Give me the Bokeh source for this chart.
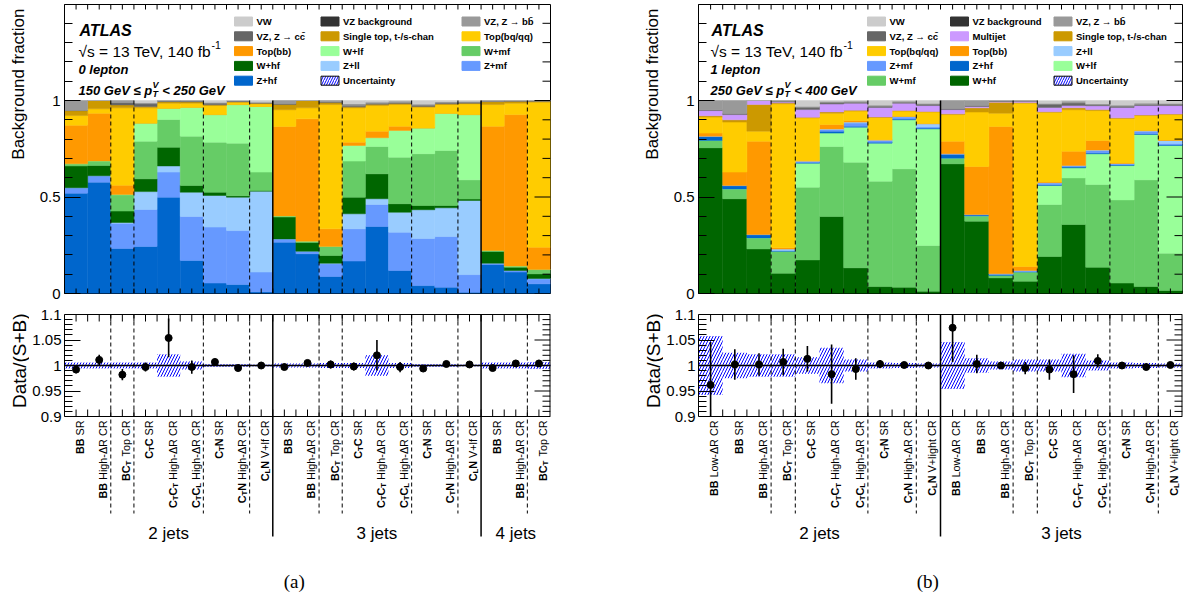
import numpy as np
from bokeh.plotting import figure
from bokeh.models import FixedTicker, ColumnDataSource
from bokeh.layouts import row, column
from bokeh.embed import file_html
from bokeh.resources import INLINE
from bokeh.core.properties import value

FONT = "Liberation Sans"
SERIF = "Liberation Serif"

# ====================== DATA ======================
SAMPLE_NAMES = {"zhf": "Z+hf", "zmf": "Z+mf", "zll": "Z+ll", "whf": "W+hf", "wmf": "W+mf",
                "wlf": "W+lf", "topbb": "Top(bb)", "topbq": "Top(bq/qq)",
                "stop": "Single top, t-/s-chan", "mj": "Multijet",
                "vzcc": "VZ, Z \u2192 cc\u0304", "vzbb": "VZ, Z \u2192 bb\u0304",
                "vzbkg": "VZ background", "vw": "VW"}
SAMPLE_COLORS = {"zhf": "#0066CC", "zmf": "#6699FF", "zll": "#99CCFF", "whf": "#006600",
                 "wmf": "#66CC66", "wlf": "#99FF99", "topbb": "#FF9900", "topbq": "#FFCC00",
                 "stop": "#CC9900", "mj": "#CC99FF", "vzcc": "#666666", "vzbb": "#999999",
                 "vzbkg": "#333333", "vw": "#CCCCCC"}
Y_TITLE_TOP = "Background fraction"
Y_TITLE_BOT = "Data/(S+B)"

# ---- panel (a): 0 lepton, 150 <= pTV < 250 GeV ----
a_groups = ["2 jets", "3 jets", "4 jets"]
a_group_sizes = [9, 9, 3]
a_regions = ["BB| SR", "BB| High-\u0394R CR", "BC_T| Top CR", "C_TC| SR", "C_TC_T| High-\u0394R CR",
             "C_TC_L| High-\u0394R CR", "C_TN| SR", "C_TN| High-\u0394R CR", "C_LN| V+lf CR",
             "BB| SR", "BB| High-\u0394R CR", "BC_T| Top CR", "C_TC| SR", "C_TC_T| High-\u0394R CR",
             "C_TC_L| High-\u0394R CR", "C_TN| SR", "C_TN| High-\u0394R CR", "C_LN| V+lf CR",
             "BB| SR", "BB| High-\u0394R CR", "BC_T| Top CR"]
a_dashed = [2, 3, 6, 8, 11, 12, 15, 17, 20]
a_solid = [9, 18]
a_stack_order = ["zhf", "zmf", "zll", "whf", "wmf", "wlf", "topbb", "topbq", "stop",
                 "vzcc", "vzbb", "vzbkg", "vw"]
a_zhf = [0.520, 0.577, 0.233, 0.244, 0.499, 0.171, 0.054, 0.047, 0.009, 0.266, 0.206, 0.088, 0.168, 0.347, 0.119, 0.041, 0.033, 0.007, 0.150, 0.111, 0.050]
a_zmf = [0.028, 0.033, 0.131, 0.191, 0.130, 0.228, 0.290, 0.279, 0.102, 0.017, 0.013, 0.066, 0.167, 0.114, 0.199, 0.244, 0.262, 0.091, 0.007, 0.008, 0.026]
a_zll = [0.000, 0.000, 0.004, 0.093, 0.032, 0.126, 0.164, 0.173, 0.419, 0.000, 0.000, 0.003, 0.078, 0.030, 0.103, 0.149, 0.149, 0.384, 0.000, 0.000, 0.002]
a_whf = [0.113, 0.053, 0.059, 0.066, 0.097, 0.035, 0.017, 0.007, 0.004, 0.113, 0.045, 0.040, 0.086, 0.129, 0.044, 0.022, 0.012, 0.007, 0.061, 0.017, 0.024]
a_wmf = [0.011, 0.024, 0.084, 0.195, 0.144, 0.255, 0.259, 0.273, 0.095, 0.006, 0.007, 0.047, 0.187, 0.142, 0.241, 0.268, 0.285, 0.100, 0.005, 0.006, 0.022]
a_wlf = [0.000, 0.000, 0.002, 0.094, 0.058, 0.150, 0.143, 0.200, 0.340, 0.000, 0.000, 0.000, 0.081, 0.045, 0.139, 0.134, 0.193, 0.338, 0.000, 0.000, 0.000]
a_topbb = [0.200, 0.247, 0.048, 0.000, 0.000, 0.000, 0.000, 0.000, 0.000, 0.463, 0.634, 0.091, 0.017, 0.034, 0.022, 0.000, 0.000, 0.000, 0.644, 0.785, 0.116]
a_topbq = [0.050, 0.023, 0.401, 0.079, 0.026, 0.021, 0.047, 0.012, 0.014, 0.087, 0.057, 0.644, 0.178, 0.133, 0.112, 0.107, 0.045, 0.056, 0.112, 0.059, 0.751]
a_stop = [0.026, 0.043, 0.015, 0.007, 0.008, 0.007, 0.004, 0.003, 0.003, 0.027, 0.038, 0.010, 0.005, 0.006, 0.005, 0.004, 0.004, 0.003, 0.015, 0.010, 0.005]
a_vzcc = [0.000, 0.000, 0.012, 0.014, 0.003, 0.004, 0.006, 0.002, 0.002, 0.005, 0.000, 0.005, 0.008, 0.006, 0.006, 0.006, 0.004, 0.004, 0.002, 0.002, 0.002]
a_vzbb = [0.052, 0.000, 0.011, 0.003, 0.003, 0.003, 0.004, 0.002, 0.002, 0.016, 0.000, 0.006, 0.005, 0.004, 0.005, 0.004, 0.004, 0.004, 0.004, 0.002, 0.002]
a_vzbkg = [0.000, 0.000, 0.000, 0.000, 0.000, 0.000, 0.000, 0.000, 0.000, 0.000, 0.000, 0.000, 0.000, 0.000, 0.000, 0.000, 0.000, 0.000, 0.000, 0.000, 0.000]
a_vw = [0.000, 0.000, 0.000, 0.014, 0.000, 0.000, 0.012, 0.002, 0.010, 0.000, 0.000, 0.000, 0.020, 0.010, 0.005, 0.021, 0.009, 0.006, 0.000, 0.000, 0.000]
a_ratio = [0.992, 1.011, 0.982, 0.997, 1.054, 0.997, 1.007, 0.995, 1.000, 0.997, 1.005, 1.002, 0.998, 1.020, 0.997, 0.994, 1.003, 1.002, 0.995, 1.004, 1.004]
a_err = [0.007, 0.010, 0.011, 0.009, 0.038, 0.013, 0.004, 0.003, 0.002, 0.005, 0.004, 0.008, 0.008, 0.030, 0.010, 0.003, 0.003, 0.002, 0.004, 0.006, 0.006]
a_unc = [0.006, 0.006, 0.006, 0.006, 0.022, 0.008, 0.003, 0.003, 0.002, 0.004, 0.004, 0.005, 0.005, 0.020, 0.005, 0.003, 0.003, 0.002, 0.006, 0.006, 0.007]
a_legend = [["vw", "vzcc", "topbb", "whf", "zhf"],
            ["vzbkg", "stop", "wlf", "zll", "unc"],
            ["vzbb", "topbq", "wmf", "zmf"]]
a_text = ["0 lepton", "150 GeV \u2264 p", "V", "T", "< 250 GeV"]

# ---- panel (b): 1 lepton, 250 <= pTV < 400 GeV ----
b_groups = ["2 jets", "3 jets"]
b_group_sizes = [10, 10]
b_regions = ["BB| Low-\u0394R CR", "BB| SR", "BB| High-\u0394R CR", "BC_T| Top CR", "C_TC| SR",
             "C_TC_T| High-\u0394R CR", "C_TC_L| High-\u0394R CR", "C_TN| SR", "C_TN| High-\u0394R CR",
             "C_LN| V+light CR",
             "BB| Low-\u0394R CR", "BB| SR", "BB| High-\u0394R CR", "BC_T| Top CR", "C_TC| SR",
             "C_TC_T| High-\u0394R CR", "C_TC_L| High-\u0394R CR", "C_TN| SR", "C_TN| High-\u0394R CR",
             "C_LN| V+light CR"]
b_dashed = [3, 4, 7, 9, 13, 14, 17, 19]
b_solid = [10]
b_stack_order = ["whf", "wmf", "wlf", "zhf", "zmf", "zll", "topbb", "topbq", "stop", "mj",
                 "vzcc", "vzbb", "vzbkg", "vw"]
b_whf = [0.755, 0.491, 0.231, 0.105, 0.174, 0.399, 0.133, 0.036, 0.033, 0.012, 0.672, 0.375, 0.081, 0.064, 0.192, 0.358, 0.136, 0.054, 0.036, 0.016]
b_wmf = [0.038, 0.050, 0.057, 0.114, 0.377, 0.363, 0.547, 0.546, 0.613, 0.237, 0.029, 0.026, 0.012, 0.047, 0.269, 0.241, 0.429, 0.431, 0.553, 0.193]
b_wlf = [0.000, 0.000, 0.000, 0.000, 0.124, 0.069, 0.182, 0.197, 0.254, 0.604, 0.000, 0.000, 0.000, 0.000, 0.099, 0.052, 0.159, 0.178, 0.235, 0.558]
b_zhf = [0.020, 0.017, 0.016, 0.002, 0.004, 0.010, 0.004, 0.005, 0.004, 0.004, 0.020, 0.006, 0.007, 0.002, 0.003, 0.007, 0.005, 0.004, 0.004, 0.004]
b_zmf = [0.002, 0.002, 0.002, 0.002, 0.005, 0.009, 0.017, 0.009, 0.010, 0.006, 0.003, 0.002, 0.002, 0.004, 0.009, 0.003, 0.012, 0.005, 0.013, 0.006]
b_zll = [0.000, 0.000, 0.000, 0.007, 0.002, 0.002, 0.005, 0.002, 0.003, 0.016, 0.000, 0.000, 0.000, 0.002, 0.002, 0.002, 0.002, 0.002, 0.002, 0.016]
b_topbb = [0.016, 0.069, 0.483, 0.007, 0.002, 0.024, 0.008, 0.002, 0.002, 0.002, 0.065, 0.249, 0.763, 0.021, 0.004, 0.074, 0.050, 0.002, 0.002, 0.002]
b_topbq = [0.083, 0.259, 0.052, 0.746, 0.222, 0.058, 0.049, 0.115, 0.026, 0.059, 0.138, 0.282, 0.069, 0.846, 0.361, 0.215, 0.155, 0.231, 0.077, 0.132]
b_stop = [0.007, 0.012, 0.138, 0.005, 0.003, 0.007, 0.005, 0.003, 0.003, 0.003, 0.004, 0.022, 0.057, 0.004, 0.003, 0.010, 0.005, 0.003, 0.003, 0.003]
b_mj = [0.027, 0.027, 0.021, 0.004, 0.040, 0.041, 0.036, 0.049, 0.038, 0.031, 0.022, 0.007, 0.004, 0.006, 0.022, 0.012, 0.020, 0.054, 0.049, 0.044]
b_vzcc = [0.004, 0.005, 0.000, 0.004, 0.010, 0.006, 0.005, 0.006, 0.005, 0.005, 0.005, 0.005, 0.002, 0.002, 0.015, 0.013, 0.004, 0.006, 0.005, 0.005]
b_vzbb = [0.048, 0.068, 0.000, 0.004, 0.005, 0.006, 0.004, 0.004, 0.004, 0.004, 0.042, 0.026, 0.003, 0.002, 0.004, 0.008, 0.004, 0.004, 0.005, 0.004]
b_vzbkg = [0.000, 0.000, 0.000, 0.000, 0.000, 0.000, 0.000, 0.000, 0.000, 0.000, 0.000, 0.000, 0.000, 0.000, 0.000, 0.000, 0.000, 0.000, 0.000, 0.000]
b_vw = [0.000, 0.000, 0.000, 0.000, 0.032, 0.006, 0.005, 0.026, 0.005, 0.017, 0.000, 0.000, 0.000, 0.000, 0.016, 0.005, 0.019, 0.026, 0.016, 0.017]
b_ratio = [0.962, 1.002, 1.002, 1.007, 1.013, 0.983, 0.993, 1.003, 1.001, 1.000, 1.074, 1.003, 1.000, 0.995, 0.992, 0.983, 1.009, 1.000, 0.997, 1.001]
b_err = [0.084, 0.030, 0.022, 0.026, 0.025, 0.058, 0.021, 0.008, 0.005, 0.004, 0.067, 0.018, 0.006, 0.012, 0.020, 0.037, 0.013, 0.007, 0.004, 0.003]
b_unc = [0.058, 0.025, 0.022, 0.022, 0.016, 0.035, 0.012, 0.006, 0.005, 0.004, 0.046, 0.014, 0.008, 0.012, 0.012, 0.023, 0.010, 0.006, 0.005, 0.004]
b_legend = [["vw", "vzcc", "topbq", "zmf", "wmf"],
            ["vzbkg", "mj", "topbb", "zhf", "whf"],
            ["vzbb", "stop", "zll", "wlf", "unc"]]
b_text = ["1 lepton", "250 GeV \u2264 p", "V", "T", "< 400 GeV"]

a_stacks = {"zhf": a_zhf, "zmf": a_zmf, "zll": a_zll, "whf": a_whf, "wmf": a_wmf, "wlf": a_wlf,
            "topbb": a_topbb, "topbq": a_topbq, "stop": a_stop, "vzcc": a_vzcc, "vzbb": a_vzbb,
            "vzbkg": a_vzbkg, "vw": a_vw}
b_stacks = {"whf": b_whf, "wmf": b_wmf, "wlf": b_wlf, "zhf": b_zhf, "zmf": b_zmf, "zll": b_zll,
            "topbb": b_topbb, "topbq": b_topbq, "stop": b_stop, "mj": b_mj, "vzcc": b_vzcc,
            "vzbb": b_vzbb, "vzbkg": b_vzbkg, "vw": b_vw}

# ====================== text metrics (Arial/Liberation Sans) ======================
UP = "ABCDEFGHIJKLMNOPQRSTUVWXYZ"
LO = "abcdefghijklmnopqrstuvwxyz"
WR = dict(zip(UP, [667, 667, 722, 722, 667, 611, 778, 722, 278, 500, 667, 556, 833, 722, 778, 667, 778, 722, 667, 611, 722, 667, 944, 667, 667, 611]))
WR.update(zip(LO, [556, 556, 500, 556, 556, 278, 556, 556, 222, 222, 500, 222, 833, 556, 556, 556, 556, 333, 500, 278, 556, 500, 722, 500, 500, 500]))
WB = dict(zip(UP, [722, 722, 722, 722, 667, 611, 778, 722, 278, 556, 722, 611, 833, 722, 778, 667, 778, 722, 667, 611, 722, 667, 944, 667, 667, 611]))
WB.update(zip(LO, [556, 611, 556, 611, 556, 333, 611, 611, 278, 278, 556, 278, 889, 611, 611, 611, 611, 389, 556, 333, 611, 556, 778, 556, 556, 500]))
COMMON = {" ": 278, "-": 333, "+": 584, "/": 278, "(": 333, ")": 333, ",": 278, ".": 278,
          "<": 584, "\u2264": 549, "\u2192": 1000, "\u221a": 549, "\u0394": 668, "=": 584, "\u0304": 0}
for d in (WR, WB):
    d.update(COMMON)
    d.update({c: 556 for c in "0123456789"})


def tw(s, size, bold):
    tab = WB if bold else WR
    return sum(tab.get(c, 556) for c in s) * size / 1000.0


def parse_region(spec):
    bold, norm = spec.split("|")
    pieces, i = [], 0
    while i < len(bold):
        if bold[i] == "_":
            pieces.append((bold[i + 1], "s"))
            i += 2
        else:
            j = i
            while j < len(bold) and bold[j] != "_":
                j += 1
            pieces.append((bold[i:j], "b"))
            i = j
    pieces.append((norm, "n"))
    return pieces


TOTAL_H = 594


def title_fig(width, x_top, x_bot):
    """Narrow figure that holds the two rotated y-axis titles of one panel."""
    f = figure(frame_width=width, frame_height=TOTAL_H, min_border_left=0, min_border_right=0,
               min_border_top=0, min_border_bottom=0, x_range=(0, width),
               y_range=(0, TOTAL_H), x_axis_location=None, y_axis_location=None,
               toolbar_location=None, output_backend="svg")
    f.outline_line_color = None
    f.grid.visible = False
    f.background_fill_color = "white"
    f.border_fill_color = "white"
    f.text([x_top], [TOTAL_H - 8], text=[Y_TITLE_TOP], angle=np.pi / 2, text_align="right",
           text_baseline="alphabetic", text_font=value(FONT), text_font_size="17px",
           text_color="black")
    f.text([x_bot], [TOTAL_H - 313], text=[Y_TITLE_BOT], angle=np.pi / 2, text_align="right",
           text_baseline="alphabetic", text_font=value(FONT), text_font_size="19px",
           text_color="black")
    return f


# ====================== panel builder ======================
def make_panel(N, stacks, order, ratio, err, unc, regions, groups, gsizes, dashed, solid,
               legend_cols, legend_x, lines, caption, caption_px, border_left, frame_w,
               border_right, page_left, text_px):
    bw = frame_w / N

    def X(px):
        return (px - page_left) / bw

    def Yt(py):
        return (293.0 - py) / 193.0

    k = 0.2 / 102.0

    def Yb(py):
        return 1.1 - (py - 314.0) * k

    ytop = Yt(4)
    # ---------------- top (stack) figure ----------------
    top = figure(frame_width=frame_w, frame_height=289, min_border_left=border_left,
                 min_border_right=border_right, min_border_top=4, min_border_bottom=12,
                 x_range=(0, N), y_range=(0, ytop), x_axis_location=None,
                 y_axis_location="left", toolbar_location=None, output_backend="svg")
    top.outline_line_color = "black"
    top.outline_line_width = 1
    top.grid.visible = False
    top.background_fill_color = "white"
    top.border_fill_color = "white"
    ax = top.yaxis[0]
    ax.ticker = FixedTicker(ticks=[0.0, 0.5, 1.0],
                            minor_ticks=[0.1, 0.2, 0.3, 0.4, 0.6, 0.7, 0.8, 0.9, 1.1, 1.2, 1.3, 1.4])
    ax.major_label_overrides = {0.0: "0", 0.5: "0.5", 1.0: "1"}
    ax.major_tick_in, ax.major_tick_out = 16, 0
    ax.minor_tick_in, ax.minor_tick_out = 8, 0
    ax.major_label_standoff = 4
    ax.major_label_text_font = FONT
    ax.major_label_text_font_size = "15px"
    ax.major_label_text_color = "black"

    xs = [i + 0.5 for i in range(N)]
    src = dict(x=xs)
    for key in order:
        src[key] = stacks[key]
    top.vbar_stack(order, x="x", width=1.0, source=ColumnDataSource(src),
                   color=[SAMPLE_COLORS[k_] for k_ in order], line_width=0.5)

    # separators
    top.segment(x0=dashed, y0=0, x1=dashed, y1=1.0, line_color="black", line_width=1,
                line_dash="4 3")
    top.segment(x0=solid, y0=0, x1=solid, y1=1.0, line_color="black", line_width=1.5)

    # ticks on x (top & bottom) and right side
    ht = [0.5 * j for j in range(1, 2 * N)]
    top.segment(x0=ht, y0=0, x1=ht, y1=5 / 193.0, line_color="black", line_width=1)
    top.segment(x0=ht, y0=ytop, x1=ht, y1=ytop - 5 / 193.0, line_color="black", line_width=1)
    mn = [0.1, 0.2, 0.3, 0.4, 0.6, 0.7, 0.8, 0.9, 1.1, 1.2, 1.3, 1.4]
    top.segment(x0=N - 8 / bw, y0=mn, x1=N, y1=mn, line_color="black", line_width=1)
    mj = [0.0, 0.5, 1.0]
    top.segment(x0=N - 16 / bw, y0=mj, x1=N, y1=mj, line_color="black", line_width=1)

    # ATLAS texts
    tx = text_px
    top.text([X(tx + 1)], [Yt(30)], text=["ATLAS"], text_font=value(FONT),
             text_font_style="bold italic", text_font_size="16px", text_color="black",
             text_baseline="alphabetic")
    main = "\u221as = 13 TeV, 140 fb"
    top.text([X(tx)], [Yt(51)], text=[main], text_font=value(FONT), text_font_size="15.5px",
             text_color="black", text_baseline="alphabetic")
    top.text([X(tx + tw(main, 15.5, False) - 2.5)], [Yt(44.5)], text=["-1"],
             text_font=value(FONT), text_font_size="10.5px", text_color="black",
             text_baseline="alphabetic")
    top.text([X(tx)], [Yt(69)], text=[lines[0]], text_font=value(FONT),
             text_font_style="bold italic", text_font_size="13px", text_color="black",
             text_baseline="alphabetic")
    cx = tx
    top.text([X(cx)], [Yt(90)], text=[lines[1]], text_font=value(FONT),
             text_font_style="bold italic", text_font_size="13px", text_color="black",
             text_baseline="alphabetic")
    cx += tw(lines[1], 13, True) + 0.5
    top.text([X(cx)], [Yt(90 - 6)], text=[lines[2]], text_font=value(FONT),
             text_font_style="bold italic", text_font_size="9px", text_color="black",
             text_baseline="alphabetic")
    top.text([X(cx)], [Yt(90 + 3.5)], text=[lines[3]], text_font=value(FONT),
             text_font_style="bold italic", text_font_size="9px", text_color="black",
             text_baseline="alphabetic")
    cx += tw("V", 9, True) + tw(" ", 13, True)
    top.text([X(cx)], [Yt(90)], text=[lines[4]], text_font=value(FONT),
             text_font_style="bold italic", text_font_size="13px", text_color="black",
             text_baseline="alphabetic")

    # legend (drawn as swatches + text)
    row_y = [21.0, 35.8, 50.6, 65.4, 80.2]
    for c, col in enumerate(legend_cols):
        px0 = legend_x[c]
        for r, key in enumerate(col):
            yc = row_y[r]
            if key == "unc":
                top.quad(left=[X(px0)], right=[X(px0 + 18)], bottom=[Yt(yc + 4.5)],
                         top=[Yt(yc - 4.5)], fill_color="white", line_color="black",
                         line_width=1, hatch_pattern="/", hatch_color="#0000FF",
                         hatch_weight=1, hatch_scale=5)
                name = "Uncertainty"
            else:
                top.quad(left=[X(px0)], right=[X(px0 + 18)], bottom=[Yt(yc + 4.5)],
                         top=[Yt(yc - 4.5)], fill_color=SAMPLE_COLORS[key],
                         line_color=SAMPLE_COLORS[key])
                name = SAMPLE_NAMES[key]
            top.text([X(px0 + 22)], [Yt(yc)], text=[name], text_font=value(FONT),
                     text_font_style="bold", text_font_size="9.5px", text_color="black",
                     text_baseline="middle")

    # ---------------- bottom (ratio + labels) figure ----------------
    bot = figure(frame_width=frame_w, frame_height=281, min_border_left=border_left,
                 min_border_right=border_right, min_border_top=8, min_border_bottom=0,
                 x_range=(0, N), y_range=(Yb(594), Yb(313)), x_axis_location=None,
                 y_axis_location="left", toolbar_location=None, output_backend="svg")
    bot.outline_line_color = None
    bot.grid.visible = False
    bot.background_fill_color = "white"
    bot.border_fill_color = "white"
    ay = bot.yaxis[0]
    ay.bounds = (0.9, 1.1)
    ay.ticker = FixedTicker(ticks=[0.9, 0.95, 1.0, 1.05, 1.1],
                            minor_ticks=[0.91, 0.92, 0.93, 0.94, 0.96, 0.97, 0.98, 0.99,
                                         1.01, 1.02, 1.03, 1.04, 1.06, 1.07, 1.08, 1.09])
    ay.major_label_overrides = {0.9: "0.9", 0.95: "0.95", 1.0: "1", 1.05: "1.05", 1.1: "1.1"}
    ay.major_tick_in, ay.major_tick_out = 16, 0
    ay.minor_tick_in, ay.minor_tick_out = 8, 0
    ay.major_label_standoff = 3
    ay.major_label_text_font = FONT
    ay.major_label_text_font_size = "15px"
    ay.major_label_text_color = "black"

    r = np.array(ratio)
    e = np.array(err)
    u = np.array(unc)
    xa = np.array(xs)
    bot.quad(left=xa - 0.5, right=xa + 0.5, bottom=1 - u, top=1 + u, fill_color=None,
             line_color=None, hatch_pattern="/", hatch_color="#0000FF", hatch_weight=1,
             hatch_scale=6)
    bot.segment(x0=[0], y0=[1.0], x1=[N], y1=[1.0], line_color="black", line_width=1.6)
    # ratio frame
    bot.segment(x0=[0, 0], y0=[0.9, 1.1], x1=[N, N], y1=[0.9, 1.1], line_color="black",
                line_width=1)
    bot.segment(x0=[N], y0=[0.9], x1=[N], y1=[1.1], line_color="black", line_width=2)
    # separators (extend into the label area)
    bot.segment(x0=dashed, y0=1.1, x1=dashed, y1=Yb(513), line_color="black", line_width=1,
                line_dash="4 3")
    bot.segment(x0=solid, y0=1.1, x1=solid, y1=Yb(536), line_color="black", line_width=1.5)
    # ticks
    bot.segment(x0=ht, y0=0.9, x1=ht, y1=0.9 + 7 * k, line_color="black", line_width=1)
    bot.segment(x0=ht, y0=1.1, x1=ht, y1=1.1 - 7 * k, line_color="black", line_width=1)
    rmn = [0.91, 0.92, 0.93, 0.94, 0.96, 0.97, 0.98, 0.99, 1.01, 1.02, 1.03, 1.04, 1.06, 1.07,
           1.08, 1.09]
    bot.segment(x0=N - 8 / bw, y0=rmn, x1=N, y1=rmn, line_color="black", line_width=1)
    rmj = [0.95, 1.0, 1.05]
    bot.segment(x0=N - 16 / bw, y0=rmj, x1=N, y1=rmj, line_color="black", line_width=1)
    # data points
    lo = np.clip(r - e, 0.9, 1.1)
    hi = np.clip(r + e, 0.9, 1.1)
    bot.segment(x0=xa, y0=lo, x1=xa, y1=hi, line_color="black", line_width=1.6)
    bot.scatter(xa, r, size=7, fill_color="black", line_color="black")

    # rotated region labels
    fs = 10.8
    acc = {"b": ([], [], []), "n": ([], [], []), "s": ([], [], [])}
    for i, spec in enumerate(regions):
        cur = 420.0
        for txt, kind in reversed(parse_region(spec)):
            size = fs * 0.72 if kind == "s" else fs
            bold = kind != "n"
            st = txt.lstrip()
            lead = txt[:len(txt) - len(st)]
            dx = 0.36 * fs + (0.24 * fs if kind == "s" else 0.0)
            acc[kind][0].append(i + 0.5 + dx / bw)
            acc[kind][1].append(Yb(cur))
            acc[kind][2].append(st)
            cur += tw(st, size, bold) + tw(lead, size, bold)
    for kind, (lx, ly, lt) in acc.items():
        size = fs * 0.72 if kind == "s" else fs
        bot.text(lx, ly, text=lt, angle=np.pi / 2, text_align="right",
                 text_baseline="alphabetic", text_font=value(FONT),
                 text_font_size=f"{size:.1f}px",
                 text_font_style="normal" if kind == "n" else "bold", text_color="black")
    # group labels
    edges = np.cumsum([0] + list(gsizes))
    gx = [(edges[j] + edges[j + 1]) / 2.0 for j in range(len(gsizes))]
    bot.text(gx, [Yb(533)] * len(gx), text=groups, text_align="center",
             text_baseline="alphabetic", text_font=value(FONT), text_font_size="17px",
             text_color="black")
    bot.text([X(caption_px)], [Yb(581)], text=[caption], text_align="center",
             text_baseline="alphabetic", text_font=value(SERIF), text_font_size="19px",
             text_color="black")
    return column(top, bot)


# layout (page x): title_a 0-29 | panel a (frame 62-548) | title_b 608-661 | panel b (frame 694-1178)
ttl_a = title_fig(29, 18.0, 19.0)
left = make_panel(21, a_stacks, a_stack_order, a_ratio, a_err, a_unc, a_regions, a_groups,
                  a_group_sizes, a_dashed, a_solid, a_legend, [232.0, 318.5, 459.5], a_text,
                  "(a)", 291.7, 33, 486, 60, 62.0, 76.0)
ttl_b = title_fig(53, 650.0 - 608.0, 651.0 - 608.0)
right = make_panel(20, b_stacks, b_stack_order, b_ratio, b_err, b_unc, b_regions, b_groups,
                   b_group_sizes, b_dashed, b_solid, b_legend, [863.0, 946.0, 1049.5], b_text,
                   "(b)", 923.3, 33, 484, 4, 694.0, 706.0)

layout = row(ttl_a, left, ttl_b, right)
open("out.html", "w").write(file_html(layout, INLINE))
